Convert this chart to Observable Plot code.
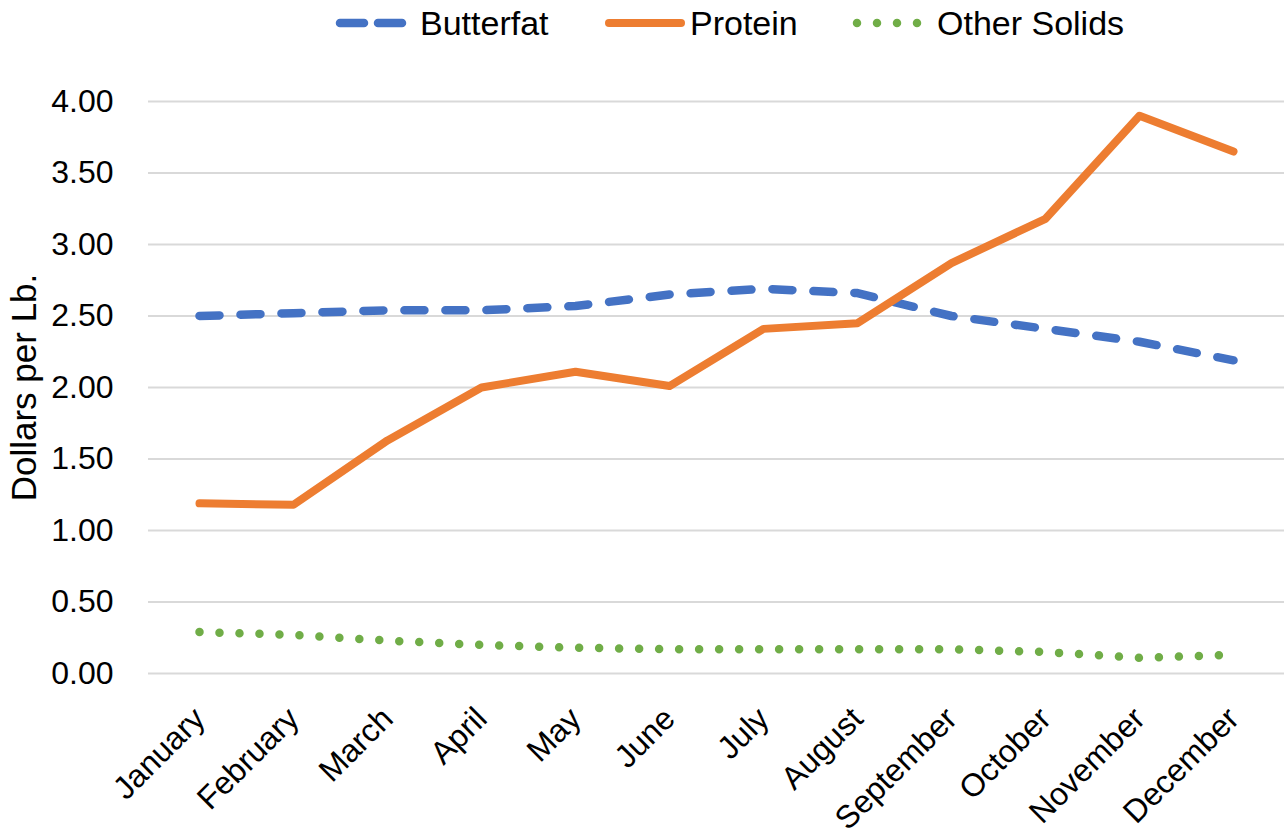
<!DOCTYPE html>
<html>
<head>
<meta charset="utf-8">
<script src="https://cdn.jsdelivr.net/npm/d3@7"></script>
<script src="https://cdn.jsdelivr.net/npm/@observablehq/plot@0.6"></script>
<style>
  html, body { margin: 0; padding: 0; background: #fff; }
  body { width: 1286px; height: 836px; overflow: hidden; font-family: "Liberation Sans", Arial, sans-serif; }
  #legend { position: relative; height: 50px; font-size: 34px; color: #000; }
  .item { position: absolute; top: 0; height: 46px; display: flex; align-items: center; }
  .item svg { display: block; }
</style>
</head>
<body>
<div id="legend"></div>
<div id="chart"></div>
<script>
const months = ["January","February","March","April","May","June","July","August","September","October","November","December"];
const butterfat = [2.50, 2.52, 2.54, 2.54, 2.57, 2.65, 2.69, 2.66, 2.50, 2.41, 2.32, 2.19];
const protein = [1.19, 1.18, 1.63, 2.00, 2.11, 2.01, 2.41, 2.45, 2.87, 3.18, 3.90, 3.65];
const otherSolids = [0.29, 0.27, 0.23, 0.20, 0.18, 0.17, 0.17, 0.17, 0.17, 0.15, 0.11, 0.13];
const seriesNames = ["Butterfat", "Protein", "Other Solids"];
const yTicks = [0, 0.5, 1, 1.5, 2, 2.5, 3, 3.5, 4];

const colors = {"Butterfat": "#4472c4", "Protein": "#ed7d31", "Other Solids": "#70ad47"};
const dashes = {"Butterfat": "20,21", "Protein": null, "Other Solids": "0,20"};
const widths = {"Butterfat": 8.5, "Protein": 8, "Other Solids": 8.5};

const seriesValues = [butterfat, protein, otherSolids];
const data = seriesNames.flatMap((s, i) => months.map((m, j) => ({series: s, month: m, value: seriesValues[i][j]})));

// Legend
const legend = document.getElementById("legend");
const legendItems = [
  {name: "Butterfat", left: 335, sw: 74, gap: 11},
  {name: "Protein", left: 604, sw: 82, gap: 4},
  {name: "Other Solids", left: 852, sw: 72, gap: 13}
];
for (const it of legendItems) {
  const div = document.createElement("div");
  div.className = "item";
  div.style.left = it.left + "px";
  const ns = "http://www.w3.org/2000/svg";
  const svg = document.createElementNS(ns, "svg");
  svg.setAttribute("width", it.sw);
  svg.setAttribute("height", 20);
  const line = document.createElementNS(ns, "line");
  line.setAttribute("x1", 5);
  line.setAttribute("x2", it.sw - 5);
  line.setAttribute("y1", 10);
  line.setAttribute("y2", 10);
  line.setAttribute("stroke", colors[it.name]);
  line.setAttribute("stroke-width", widths[it.name]);
  line.setAttribute("stroke-linecap", "round");
  if (dashes[it.name]) line.setAttribute("stroke-dasharray", it.name === "Butterfat" ? "24,14" : "0,20");
  svg.appendChild(line);
  div.appendChild(svg);
  const span = document.createElement("span");
  span.textContent = it.name;
  span.style.marginLeft = it.gap + "px";
  div.appendChild(span);
  legend.appendChild(div);
}

const chart = Plot.plot({
  width: 1286,
  height: 786,
  marginTop: 51,
  marginBottom: 163,
  marginLeft: 148,
  marginRight: 2,
  style: {fontFamily: "Liberation Sans, Arial, sans-serif", fontSize: "32px", color: "#000", background: "#fff"},
  x: {type: "point", domain: months, padding: 0.5},
  y: {domain: [0, 4]},
  marks: [
    Plot.gridY(yTicks, {stroke: "#d9d9d9", strokeOpacity: 1, strokeWidth: 2}),
    Plot.axisY(yTicks, {
      tickSize: 0, tickPadding: 35, tickFormat: d3.format(".2f"),
      fontSize: 32, fill: "#000", label: null
    }),
    Plot.axisY(yTicks, {
      tickSize: 0, ticks: [], tickFormat: () => "",
      label: "Dollars per Lb.", labelAnchor: "center", labelArrow: "none", labelOffset: 137,
      fontSize: 35, fill: "#000"
    }),
    Plot.axisX({tickSize: 0, tickRotate: -45, tickPadding: 40, label: null, fontSize: 32, fill: "#000"}),
    ...seriesNames.map(s => Plot.line(data.filter(d => d.series === s), {
      x: "month", y: "value",
      stroke: colors[s], strokeWidth: widths[s],
      strokeDasharray: dashes[s] || undefined,
      strokeLinecap: "round", strokeLinejoin: "round"
    }))
  ]
});
document.getElementById("chart").appendChild(chart);
</script>
</body>
</html>
